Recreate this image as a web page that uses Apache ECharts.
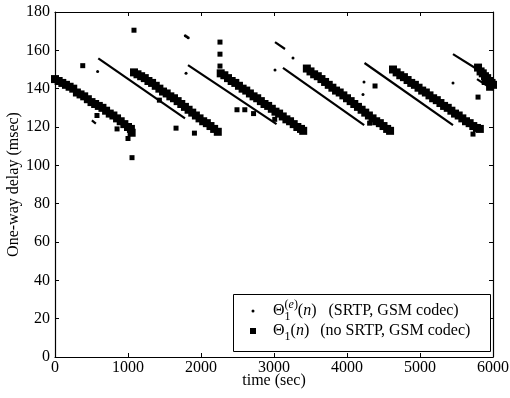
<!DOCTYPE html>
<html><head><meta charset="utf-8">
<script src="https://cdn.jsdelivr.net/npm/echarts@6/dist/echarts.min.js"></script>
<style>html,body{margin:0;padding:0;background:#fff}#c{width:510px;height:398px}</style>
</head><body><div id="c"></div>
<script>
// ---- data (time in sec, one-way delay in msec) ----
const xTickValues = [0, 1000, 2000, 3000, 4000, 5000, 6000];
const yTickValues = [0, 20, 40, 60, 80, 100, 120, 140, 160, 180];

// Theta_1(n): no SRTP, GSM codec (squares) - dense bands
const sq1 = [[0,145],[50,144],[100,143],[150,142],[200,141],[250,140],[300,138],[350,137],[400,136],[450,134.5],[500,133],[550,132],[600,131],[650,130],[700,128.5],[750,127],[800,126],[850,124.5],[900,123],[950,121.5],[1000,120],[1040,119],[1050,117]];
const sq2 = [[1082,148.5],[1130,147.5],[1180,146.5],[1230,145.5],[1280,144],[1330,143],[1380,141.5],[1430,140],[1480,138.5],[1530,137.5],[1580,136],[1630,135],[1680,133.5],[1730,132],[1780,130.5],[1830,129],[1880,127.5],[1930,126],[1980,124.5],[2030,123],[2080,122],[2130,120.5],[2180,119],[2230,117.5]];
const sq3 = [[2270,148],[2320,147],[2370,145.5],[2420,144],[2470,143],[2520,141.5],[2570,140],[2620,139],[2670,137.5],[2720,136],[2770,135],[2820,133.5],[2870,132],[2920,131],[2970,129.5],[3020,128],[3070,127],[3120,125.5],[3170,124],[3220,123],[3270,121.5],[3320,120],[3370,119],[3400,118]];
const sq4 = [[3450,150.5],[3500,149],[3550,147.5],[3600,146.5],[3650,145],[3700,143.5],[3750,142],[3800,140.5],[3850,139],[3900,138],[3950,136.5],[4000,135],[4050,133.5],[4100,132],[4150,130.5],[4200,129],[4250,127.5],[4300,126],[4350,124.5],[4400,123],[4450,122],[4500,120.5],[4550,119],[4590,118]];
const sq5 = [[4630,150],[4680,148.5],[4730,147],[4780,146],[4830,144.5],[4880,143],[4930,142],[4980,140.5],[5030,139],[5080,138],[5130,136.5],[5180,135],[5230,134],[5280,132.5],[5330,131],[5380,130],[5430,128.5],[5480,127],[5530,126],[5580,124.5],[5630,123],[5680,122],[5730,120.5],[5780,119.5],[5820,119]];
const sq6 = [[5795,151],[5830,149],[5860,148],[5890,146.5],[5920,145.5],[5950,144],[5980,143],[6000,142],[5900,144],[5960,141]];
// isolated squares
const sqOutliers = [[380,152],[575,126],[850,119],[1000,114],[1055,104],[1082,170.5],[1430,134],[1658,119.4],[1910,116.8],[2260,164.3],[2260,158],[2260,151.8],[2493,129],[2600,129],[2720,127],[3010,124],[4310,122],[4384,141.4],[5726,116.3],[5795,135.6]];

// Theta_1^(e)(n): SRTP, GSM codec (dots) - dense runs and isolated dots
const srtpRuns = [
  [[505,123.5],[560,121.8]],
  [[593,155.8],[1781,124.5]],
  [[1822,152.3],[3035,121.5]],
  [[3014,164.3],[3151,160.7]],
  [[3123,150.8],[4235,121]],
  [[4240,153.4],[5452,121]],
  [[5452,158],[5860,148.3]],
  [[5781,145],[6000,139.5]]
];
const srtpDots = [[584,149],[1795,148],[1785,167.6],[1805,167.1],[1825,166.6],[3014,149.7],[3260,156],[4233,143.5],[4219,137],[5452,143]];

// ---- chart ----
const FONT = 'Liberation Serif';
const chart = echarts.init(document.getElementById('c'), null, {renderer: 'canvas'});
const axisCommon = {
  type: 'value',
  axisLine: {show: true, onZero: false, lineStyle: {color: '#000', width: 1.2}},
  axisTick: {show: true, inside: true, length: 4, lineStyle: {color: '#000', width: 1}},
  splitLine: {show: false}
};
const base = {fontFamily: FONT, fontSize: 16, color: '#000', lineHeight: 24};
const small = {fontFamily: FONT, fontSize: 12, color: '#000'};
const rich = {
  t: base,
  ti: Object.assign({}, base, {fontStyle: 'italic'}),
  sb0: Object.assign({}, small, {lineHeight: 11, verticalAlign: 'bottom', width: 0}),
  sb: Object.assign({}, small, {lineHeight: 11, verticalAlign: 'bottom'}),
  sp: Object.assign({}, small, {lineHeight: 14, verticalAlign: 'top'}),
  spi: Object.assign({}, small, {lineHeight: 14, verticalAlign: 'top', fontStyle: 'italic'}),
  lgA: Object.assign({}, base, {width: 13.5}),
  lgB: Object.assign({}, base, {width: 12}),
  g1: Object.assign({}, base, {width: 12}),
  g2: Object.assign({}, base, {width: 11})
};
const plain = v => String(v);

const series = [
  {type: 'scatter', name: 'nosrtp', data: [].concat(sq1, sq2, sq3, sq4, sq5, sq6),
   symbol: 'rect', symbolSize: 8, itemStyle: {color: '#000', opacity: 1}, z: 3},
  {type: 'scatter', name: 'nosrtp', data: sqOutliers,
   symbol: 'rect', symbolSize: 5, itemStyle: {color: '#000', opacity: 1}, z: 3},
  {type: 'scatter', name: 'srtp', data: srtpDots, symbol: 'circle', symbolSize: 3,
   itemStyle: {color: '#000', opacity: 1}, z: 2}
].concat(srtpRuns.map(run => ({
  type: 'line', name: 'srtp', data: run, showSymbol: false, symbol: 'none',
  lineStyle: {color: '#000', width: 2.2}, itemStyle: {color: '#000'}, z: 2
})));

chart.setOption({
  animation: false,
  backgroundColor: '#fff',
  grid: {left: 55, right: 17, top: 12, bottom: 41, containLabel: false, outerBoundsMode: 'none'},
  xAxis: [
    Object.assign({}, axisCommon, {
      position: 'bottom', min: xTickValues[0], max: xTickValues[xTickValues.length - 1], interval: 1000,
      axisLabel: {show: true, fontFamily: FONT, fontSize: 16, color: '#000', margin: 3, formatter: plain},
      name: 'time (sec)', nameLocation: 'middle', nameGap: 16, nameMoveOverlap: false,
      nameTextStyle: {fontFamily: FONT, fontSize: 16, color: '#000', verticalAlign: 'top'}
    }),
    Object.assign({}, axisCommon, {
      position: 'top', min: xTickValues[0], max: xTickValues[xTickValues.length - 1], interval: 1000,
      axisLabel: {show: false}
    })
  ],
  yAxis: [
    Object.assign({}, axisCommon, {
      position: 'left', min: yTickValues[0], max: yTickValues[yTickValues.length - 1], interval: 20,
      axisLabel: {show: true, fontFamily: FONT, fontSize: 16, color: '#000', margin: 5, formatter: plain},
      name: 'One-way delay (msec)', nameLocation: 'middle', nameGap: 33, nameMoveOverlap: false,
      nameTextStyle: {fontFamily: FONT, fontSize: 16, color: '#000'}
    }),
    Object.assign({}, axisCommon, {
      position: 'right', min: yTickValues[0], max: yTickValues[yTickValues.length - 1], interval: 20,
      axisLabel: {show: false}
    })
  ],
  graphic: [{
    type: 'rect', left: 233, top: 294, z: 1,
    shape: {width: 257, height: 57},
    style: {fill: '#fff', stroke: '#000', lineWidth: 1}
  }],
  legend: [
    {
      data: [{name: 'srtp', icon: 'circle'}], left: 251.5, top: 299, padding: 0,
      itemWidth: 3, itemHeight: 3, selectedMode: false, z: 5,
      itemStyle: {color: '#000'},
      formatter: () => '{lgA| }{t|Θ}{sb0|1}{sp|(}{spi|e}{sp|)}{t|(}{ti|n}{t|)}{g1| }{t|(SRTP, GSM codec)}',
      textStyle: {rich: rich, color: '#000'}
    },
    {
      data: [{name: 'nosrtp', icon: 'rect'}], left: 250, top: 323, padding: 0,
      itemWidth: 6, itemHeight: 6, selectedMode: false, z: 5,
      itemStyle: {color: '#000'},
      formatter: () => '{lgB| }{t|Θ}{sb|1}{t|(}{ti|n}{t|)}{g2| }{t|(no SRTP, GSM codec)}',
      textStyle: {rich: rich, color: '#000'}
    }
  ],
  series: series
});
</script>
</body></html>
